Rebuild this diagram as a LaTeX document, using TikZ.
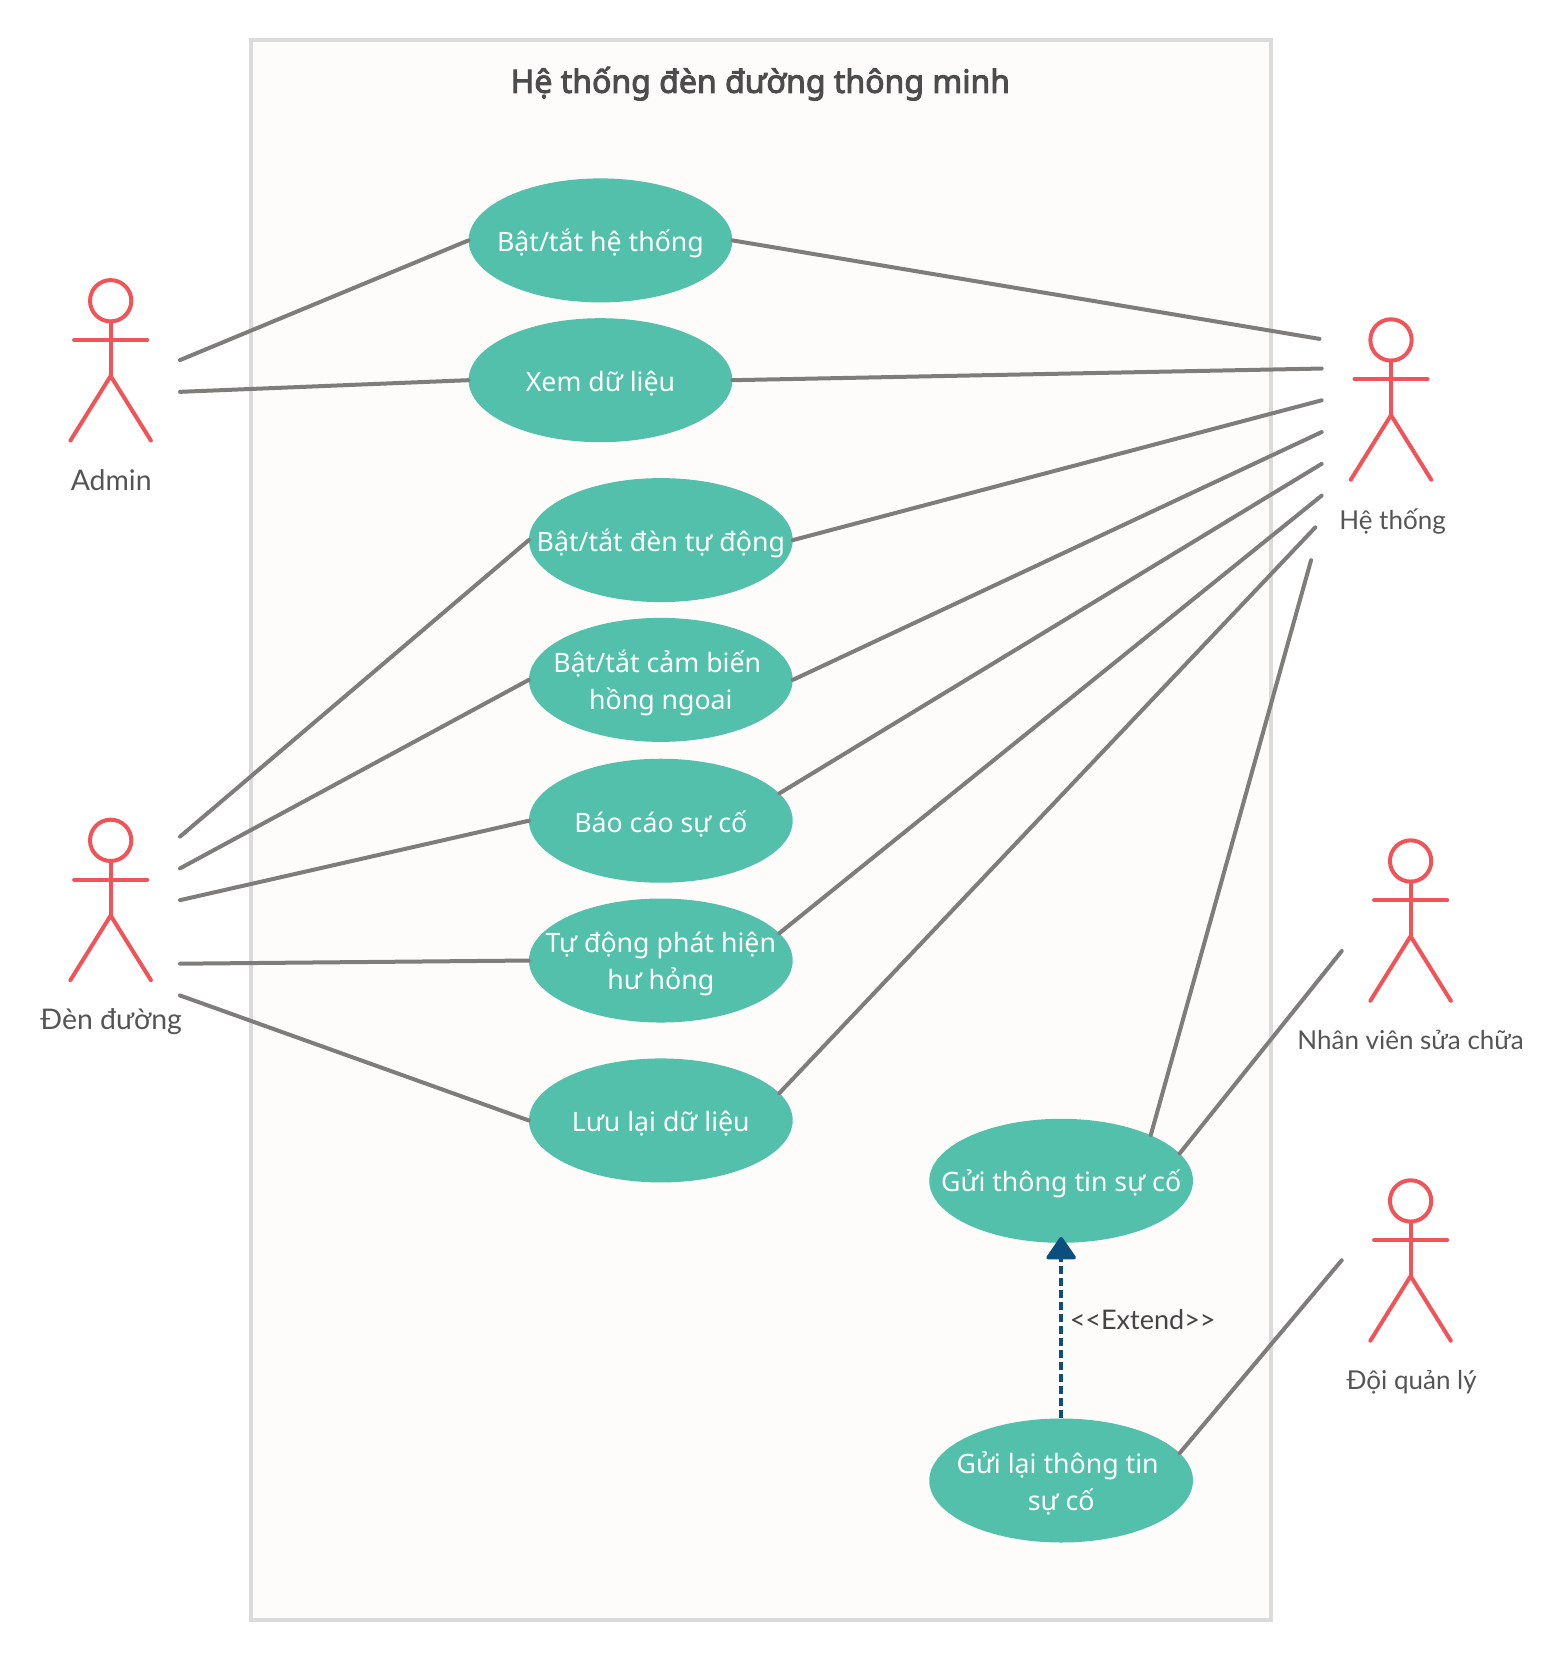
\documentclass[tikz,border=0pt]{standalone}
\usepackage{fontspec}
\setmainfont{Lato}
\newfontfamily\ucfont{Noto Sans}
\newfontfamily\titlefont[FakeBold=3]{Noto Sans}
\usetikzlibrary{shapes.geometric,arrows.meta}
\definecolor{teal}{HTML}{52C0AA}
\definecolor{act}{HTML}{F05458}
\definecolor{lin}{HTML}{7F7D7B}
\definecolor{frm}{HTML}{DBDBDB}
\definecolor{bgc}{HTML}{FDFCFA}
\definecolor{txt}{HTML}{555555}
\definecolor{arw}{HTML}{0A4F7D}
\tikzset{
  uc/.style={ellipse,fill=teal,draw=none,minimum width=263.7pt,minimum height=124pt,inner sep=0pt,
    label={[text=white,align=center,yshift=-3pt,inner sep=0pt,font=\ucfont\fontsize{26.7}{37}\selectfont]center:#1}},
  lnk/.style={draw=lin,line width=4pt,line cap=round},
  actorline/.style={draw=act,line width=4pt,line cap=round},
  actlabel/.style={text=txt,font=\fontsize{26}{30}\selectfont},
  actbig/.style={actlabel,font=\fontsize{28.4}{32}\selectfont},
  pics/actorfig/.style={code={
    \draw[actorline] (0,0) circle[radius=19.5];
    \draw[actorline] (0,19.5) -- (0,71);
    \draw[actorline] (-34.5,37) -- (34.5,37);
    \draw[actorline] (-38,132) -- (0,71) -- (38,132);
  }}
}
\begin{document}
\begin{tikzpicture}[x=1.059pt,y=-1.059pt]
\useasboundingbox (0pt,0pt) rectangle (1565pt,-1660pt);
\node[draw=frm,fill=bgc,line width=3.8pt,minimum width=1020pt,minimum height=1580pt,inner sep=0pt] (sys) at (718.5,784) {};
\node[text=txt!90!black,font=\titlefont\fontsize{32}{36}\selectfont] (title) at (718,79) {Hệ thống đèn đường thông minh};

\node[uc={Bật/tắt hệ thống}] (e1) at (567,227) {};
\node[uc={Xem dữ liệu}] (e2) at (567,359) {};
\node[uc={Bật/tắt đèn tự động}] (e3) at (624,510) {};
\node[uc={Bật/tắt cảm biến\hspace*{7pt}\\hồng ngoai}] (e4) at (624,642) {};
\node[uc={Báo cáo sự cố}] (e5) at (624,775) {};
\node[uc={Tự động phát hiện\\hư hỏng}] (e6) at (624,907) {};
\node[uc={Lưu lại dữ liệu}] (e7) at (624,1058) {};
\node[uc={Gửi thông tin sự cố}] (e8) at (1002,1115) {};
\node[uc={Gửi lại thông tin\hspace*{7pt}\\sự cố}] (e9) at (1002,1398) {};

\pic at (104.5,284) {actorfig};
\pic at (104.5,793.5) {actorfig};
\pic at (1313.5,321) {actorfig};
\pic at (1332,813) {actorfig};
\pic at (1332,1134) {actorfig};

\node[actbig] (aAdmin) at (105,453) {Admin};
\node[actbig] (aDen) at (105,965) {Đèn đường};
\node[actlabel] (aHt) at (1315,492) {Hệ thống};
\node[actlabel] (aNv) at (1332,982) {Nhân viên sửa chữa};
\node[actlabel] (aDoi) at (1333,1305) {Đội quản lý};

\coordinate (ad1) at (170,340);
\coordinate (ad2) at (170,370);
\coordinate (de1) at (170,790);
\coordinate (de2) at (170,820);
\coordinate (de3) at (170,850);
\coordinate (de4) at (170,910);
\coordinate (de5) at (170,940);
\coordinate (ht1) at (1246,320);
\coordinate (ht2) at (1248,348);
\coordinate (ht3) at (1248,378);
\coordinate (ht4) at (1248,408);
\coordinate (ht5) at (1248,438);
\coordinate (ht6) at (1248,468);
\coordinate (ht7) at (1242,498);
\coordinate (ht8) at (1238,529);
\coordinate (nv) at (1267,898);
\coordinate (dq) at (1267,1190);

\draw[lnk] (ad1) -- (e1.west);
\draw[lnk] (ad2) -- (e2.west);
\draw[lnk] (de1) -- (e3.west);
\draw[lnk] (de2) -- (e4.west);
\draw[lnk] (de3) -- (e5.west);
\draw[lnk] (de4) -- (e6.west);
\draw[lnk] (de5) -- (e7.west);
\draw[lnk] (e1.east) -- (ht1);
\draw[lnk] (e2.east) -- (ht2);
\draw[lnk] (e3.east) -- (ht3);
\draw[lnk] (e4.east) -- (ht4);
\draw[lnk] (e5.13) -- (ht5);
\draw[lnk] (e6.13) -- (ht6);
\draw[lnk] (e7.13) -- (ht7);
\draw[lnk] (e8.27.5) -- (ht8);
\draw[lnk] (e8.13) -- (nv);
\draw[lnk] (e9.13) -- (dq);

\draw[draw=arw,line width=3.8pt,dash pattern=on 8pt off 4pt,-{Triangle[length=24pt,width=32pt,round]}] (e9.north) -- ([yshift=6pt]e8.south);
\node[text=txt!80!black,font=\fontsize{27}{30}\selectfont] (ext) at (1079,1246) {{<}{<}Extend{>}{>}};
\end{tikzpicture}
\end{document}
